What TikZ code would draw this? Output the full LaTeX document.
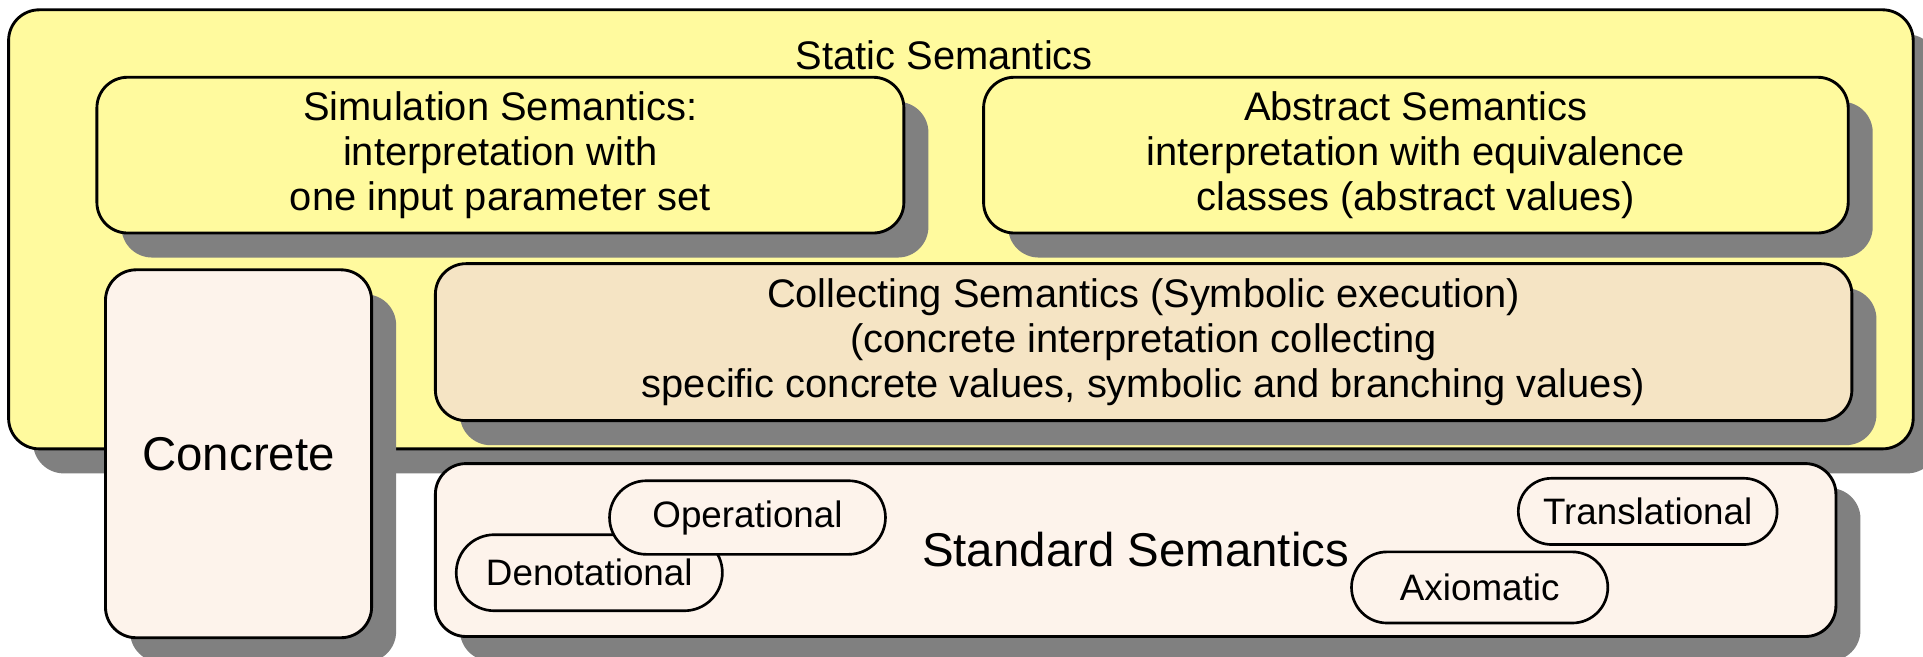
\documentclass[tikz,border=0pt]{standalone}
\usepackage{fontspec}
\setmainfont{Liberation Sans}
\usetikzlibrary{shadows,shapes.misc}
\definecolor{outeryellow}{RGB}{255,250,158}
\definecolor{peach}{RGB}{253,243,235}
\definecolor{wheatc}{RGB}{245,228,196}
\definecolor{shadowgray}{RGB}{128,128,128}
\begin{document}
\begin{tikzpicture}[x=0.6pt,y=-0.6pt,
  box/.style={draw=black, line width=1.4pt, rounded corners=15pt, align=center, inner sep=0pt,
    general shadow={fill=shadowgray, shadow xshift=12pt, shadow yshift=-12pt}},
  pill/.style={draw=black, line width=1.3pt, rounded rectangle, fill=peach, inner sep=0pt,
    font=\fontsize{18}{20}\selectfont},
  txt/.style={font=\fontsize{19.5}{21.9}\selectfont},
  bigtxt/.style={font=\fontsize{23.2}{26}\selectfont}]
\useasboundingbox (0,0) rectangle (1568,535);
% outer static semantics box
\node[box, fill=outeryellow, minimum width=931.8pt, minimum height=214.8pt] (static) at (783.5,187) {};
\node[txt] (statictitle) at (770,45) {Static Semantics};
% simulation
\node[box, txt, fill=outeryellow, minimum width=394.8pt, minimum height=76.2pt] (sim) at (408,126.5)
  {Simulation Semantics:\\interpretation with\\one input parameter set};
% abstract
\node[box, txt, fill=outeryellow, minimum width=423pt, minimum height=76.2pt] (abs) at (1154.5,126.5)
  {Abstract Semantics\\interpretation with equivalence\\classes (abstract values)};
% collecting
\node[box, txt, fill=wheatc, minimum width=693pt, minimum height=76.8pt] (coll) at (932.5,279)
  {Collecting Semantics (Symbolic execution)\\(concrete interpretation collecting\\specific concrete values, symbolic and branching values)};
% concrete
\node[box, bigtxt, fill=peach, minimum width=130.2pt, minimum height=180pt] (conc) at (194.5,370) {Concrete};
% standard
\node[box, bigtxt, fill=peach, minimum width=685.2pt, minimum height=84.6pt] (std) at (926,448.5) {Standard Semantics};
% pills
\node[pill, minimum width=130.2pt, minimum height=37.2pt] (deno) at (480.5,467) {Denotational};
\node[pill, minimum width=135pt, minimum height=36pt] (oper) at (609.5,422) {Operational};
\node[pill, minimum width=126.6pt, minimum height=32.4pt] (trans) at (1343.5,417) {Translational};
\node[pill, minimum width=125.4pt, minimum height=34.8pt] (axio) at (1206.5,479) {Axiomatic};
\end{tikzpicture}
\end{document}
